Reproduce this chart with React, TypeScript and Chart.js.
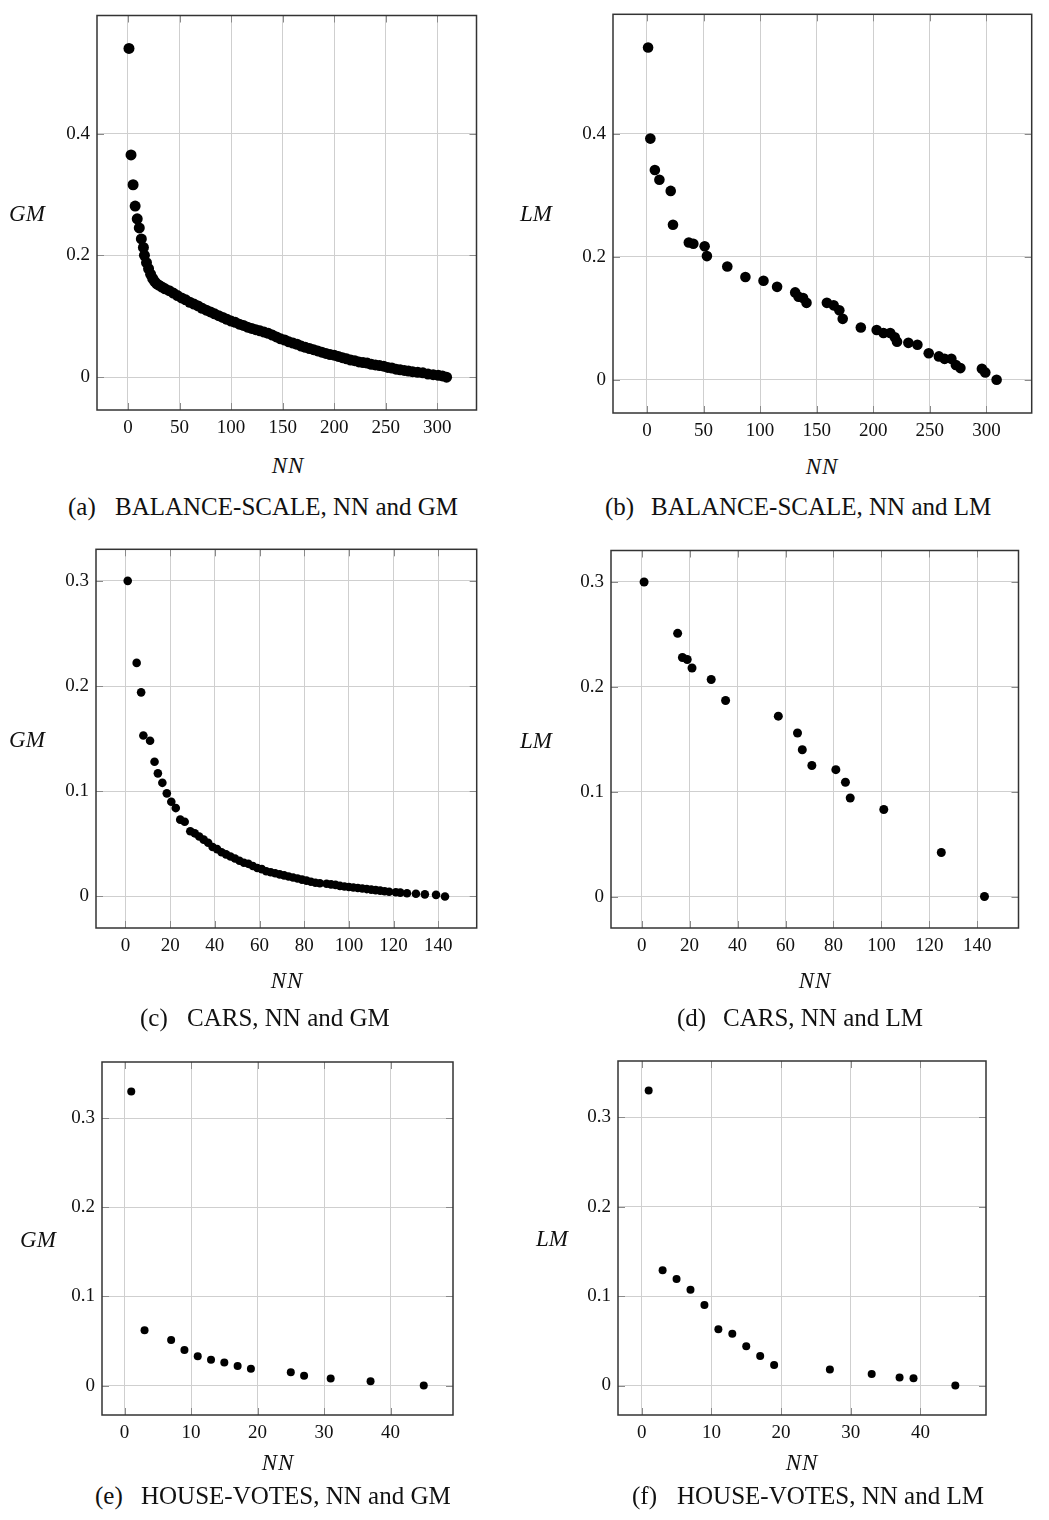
import React, { useEffect, useRef } from "react";
import { Chart, registerables } from "chart.js";
Chart.register(...registerables);

// ---------- DATA ----------
// (a) BALANCE-SCALE, NN vs GM
const aNN = [1, 3, 5, 7, 9, 11, 13, 15, 16, 18, 20, 22, 24, 26, 28, 30, 33, 36, 40, 44, 48, 52, 56, 60, 64, 68, 72, 76, 80, 84, 88, 92, 96, 100, 104, 108, 112, 116, 120, 124, 128, 132, 136, 140, 144, 148, 152, 156, 160, 164, 168, 172, 176, 180, 184, 188, 192, 196, 200, 204, 208, 212, 216, 220, 224, 228, 232, 236, 240, 244, 248, 252, 256, 260, 264, 268, 272, 276, 281, 286, 291, 296, 301, 305, 309];
const aGM = [0.540, 0.365, 0.316, 0.281, 0.260, 0.245, 0.227, 0.213, 0.200, 0.188, 0.178, 0.169, 0.162, 0.157, 0.153, 0.151, 0.148, 0.145, 0.142, 0.138, 0.134, 0.130, 0.127, 0.123, 0.120, 0.117, 0.113, 0.110, 0.107, 0.104, 0.101, 0.098, 0.095, 0.092, 0.090, 0.087, 0.085, 0.082, 0.080, 0.078, 0.076, 0.074, 0.072, 0.069, 0.066, 0.063, 0.061, 0.058, 0.056, 0.054, 0.051, 0.049, 0.047, 0.045, 0.043, 0.041, 0.039, 0.037, 0.036, 0.034, 0.032, 0.030, 0.028, 0.027, 0.025, 0.024, 0.023, 0.021, 0.020, 0.019, 0.018, 0.016, 0.015, 0.013, 0.012, 0.011, 0.010, 0.009, 0.008, 0.007, 0.005, 0.004, 0.003, 0.002, 0.000];

// (b) BALANCE-SCALE, NN vs LM
const bNN = [1, 3, 7, 11, 21, 23, 37, 41, 51, 53, 71, 87, 103, 115, 131, 134, 138, 141, 159, 165, 170, 173, 189, 203, 209, 215, 219, 221, 231, 239, 249, 258, 263, 269, 273, 277, 296, 299, 309];
const bLM = [0.540, 0.392, 0.341, 0.325, 0.307, 0.252, 0.223, 0.221, 0.217, 0.201, 0.184, 0.167, 0.161, 0.151, 0.142, 0.135, 0.133, 0.125, 0.125, 0.121, 0.113, 0.099, 0.085, 0.081, 0.076, 0.076, 0.069, 0.062, 0.060, 0.057, 0.043, 0.038, 0.034, 0.034, 0.024, 0.019, 0.018, 0.012, 0.000];

// (c) CARS, NN vs GM
const cNN = [1, 5, 7, 8, 11, 13, 14.5, 16.5, 18.5, 20.5, 22.5, 24.5, 26.5, 29, 31, 33, 35, 37, 39, 41, 43, 45, 47, 49, 51, 53, 55, 57, 59, 61, 63, 65, 67, 69, 71, 73, 75, 77, 79, 81, 83, 85, 87, 90, 92, 94, 96, 98, 100, 102, 104, 106, 108, 110, 112, 114, 116, 118, 121, 123, 126, 130, 134, 139, 143];
const cGM = [0.300, 0.222, 0.194, 0.153, 0.148, 0.128, 0.117, 0.108, 0.098, 0.090, 0.084, 0.073, 0.071, 0.062, 0.060, 0.057, 0.054, 0.051, 0.047, 0.045, 0.042, 0.040, 0.038, 0.036, 0.034, 0.032, 0.031, 0.029, 0.027, 0.026, 0.024, 0.023, 0.022, 0.021, 0.020, 0.019, 0.018, 0.017, 0.016, 0.015, 0.014, 0.013, 0.0125, 0.012, 0.0115, 0.011, 0.010, 0.0095, 0.009, 0.0085, 0.008, 0.0075, 0.007, 0.0065, 0.006, 0.0055, 0.005, 0.0045, 0.004, 0.0036, 0.003, 0.0025, 0.002, 0.0015, 0.000];

// (d) CARS, NN vs LM
const dNN = [1, 15, 17, 19, 21, 29, 35, 57, 65, 67, 71, 81, 85, 87, 101, 125, 143];
const dLM = [0.300, 0.251, 0.228, 0.226, 0.218, 0.207, 0.187, 0.172, 0.156, 0.140, 0.125, 0.121, 0.109, 0.094, 0.083, 0.042, 0.000];

// (e) HOUSE-VOTES, NN vs GM
const eNN = [1, 3, 7, 9, 11, 13, 15, 17, 19, 25, 27, 31, 37, 45];
const eGM = [0.330, 0.062, 0.051, 0.040, 0.033, 0.029, 0.026, 0.022, 0.019, 0.015, 0.011, 0.008, 0.005, 0.000];

// (f) HOUSE-VOTES, NN vs LM
const fNN = [1, 3, 5, 7, 9, 11, 13, 15, 17, 19, 27, 33, 37, 39, 45];
const fLM = [0.330, 0.129, 0.119, 0.107, 0.090, 0.063, 0.058, 0.044, 0.033, 0.023, 0.018, 0.013, 0.009, 0.008, 0.000];

// tick labels
const xTicksBalance = [0, 50, 100, 150, 200, 250, 300];
const yTicksBalance = [0, 0.2, 0.4];
const xTicksCars = [0, 20, 40, 60, 80, 100, 120, 140];
const yTicksCars = [0, 0.1, 0.2, 0.3];
const xTicksVotes = [0, 10, 20, 30, 40];
const yTicksVotes = [0, 0.1, 0.2, 0.3];

const xTitle = "NN";
const captions = [
  { tag: "(a)", text: "BALANCE-SCALE, NN and GM" },
  { tag: "(b)", text: "BALANCE-SCALE, NN and LM" },
  { tag: "(c)", text: "CARS, NN and GM" },
  { tag: "(d)", text: "CARS, NN and LM" },
  { tag: "(e)", text: "HOUSE-VOTES, NN and GM" },
  { tag: "(f)", text: "HOUSE-VOTES, NN and LM" },
];

// ---------- LAYOUT ----------
const SERIF = "'Liberation Serif', 'DejaVu Serif', serif";

type PanelSpec = {
  box: { l: number; t: number; r: number; b: number };
  xr: [number, number];
  yr: [number, number];
  xs: number[];
  ys: number[];
  xTicks: number[];
  yTicks: number[];
  radius: number;
  yTitle: string;
  yTitlePos: [number, number];
  xTitlePos: [number, number];
  capTagX: number;
  capTextX: number;
  capY: number;
  cap: { tag: string; text: string };
};

const panels: PanelSpec[] = [
  { box: { l: 97, t: 14, r: 478, b: 410 }, xr: [-30, 338], yr: [-0.054, 0.594], xs: aNN, ys: aGM, xTicks: xTicksBalance, yTicks: yTicksBalance, radius: 5.5, yTitle: "GM", yTitlePos: [27, 213], xTitlePos: [288, 465], capTagX: 68, capTextX: 115, capY: 506, cap: captions[0] },
  { box: { l: 613, t: 13, r: 1033, b: 413 }, xr: [-30, 340], yr: [-0.054, 0.594], xs: bNN, ys: bLM, xTicks: xTicksBalance, yTicks: yTicksBalance, radius: 5.3, yTitle: "LM", yTitlePos: [536, 213], xTitlePos: [822, 466], capTagX: 605, capTextX: 651, capY: 506, cap: captions[1] },
  { box: { l: 96, t: 549, r: 477, b: 928 }, xr: [-13.2, 157.2], yr: [-0.03, 0.33], xs: cNN, ys: cGM, xTicks: xTicksCars, yTicks: yTicksCars, radius: 4.3, yTitle: "GM", yTitlePos: [27, 739], xTitlePos: [287, 980], capTagX: 140, capTextX: 187, capY: 1017, cap: captions[2] },
  { box: { l: 611, t: 550, r: 1019, b: 928 }, xr: [-12.8, 157.2], yr: [-0.03, 0.33], xs: dNN, ys: dLM, xTicks: xTicksCars, yTicks: yTicksCars, radius: 4.5, yTitle: "LM", yTitlePos: [536, 740], xTitlePos: [815, 980], capTagX: 677, capTextX: 723, capY: 1017, cap: captions[3] },
  { box: { l: 102, t: 1062, r: 453, b: 1415 }, xr: [-3.4, 49.4], yr: [-0.033, 0.363], xs: eNN, ys: eGM, xTicks: xTicksVotes, yTicks: yTicksVotes, radius: 4, yTitle: "GM", yTitlePos: [38, 1239], xTitlePos: [278, 1462], capTagX: 95, capTextX: 141, capY: 1495, cap: captions[4] },
  { box: { l: 618, t: 1061, r: 986, b: 1415 }, xr: [-3.4, 49.4], yr: [-0.033, 0.363], xs: fNN, ys: fLM, xTicks: xTicksVotes, yTicks: yTicksVotes, radius: 4, yTitle: "LM", yTitlePos: [552, 1238], xTitlePos: [802, 1462], capTagX: 632, capTextX: 677, capY: 1495, cap: captions[5] },
];

const PAD_L = 60;
const PAD_T = 4;
const PAD_R = 4;
const PAD_B = 40;

const boxPlugin = {
  id: "pgfBox",
  beforeDatasetsDraw(chart: any) {
    const { ctx, chartArea: a, scales } = chart;
    ctx.save();
    ctx.strokeStyle = "#8a8a8a";
    ctx.lineWidth = 1;
    const tl = 7;
    ctx.beginPath();
    scales.x.ticks.forEach((t: any) => {
      const px = Math.round(scales.x.getPixelForValue(t.value)) + 0.5;
      ctx.moveTo(px, a.top);
      ctx.lineTo(px, a.top + tl);
      ctx.moveTo(px, a.bottom);
      ctx.lineTo(px, a.bottom - tl);
    });
    scales.y.ticks.forEach((t: any) => {
      const py = Math.round(scales.y.getPixelForValue(t.value)) + 0.5;
      ctx.moveTo(a.left, py);
      ctx.lineTo(a.left + tl, py);
      ctx.moveTo(a.right, py);
      ctx.lineTo(a.right - tl, py);
    });
    ctx.stroke();
    ctx.strokeStyle = "#333333";
    ctx.lineWidth = 1.5;
    ctx.strokeRect(a.left, a.top, a.right - a.left, a.bottom - a.top);
    ctx.restore();
  },
};

function Panel({ p }: { p: PanelSpec }) {
  const ref = useRef<HTMLCanvasElement | null>(null);
  const w = p.box.r - p.box.l + PAD_L + PAD_R;
  const h = p.box.b - p.box.t + PAD_T + PAD_B;

  useEffect(() => {
    if (!ref.current) return;
    const chart = new Chart(ref.current, {
      type: "scatter",
      data: {
        datasets: [
          {
            data: p.xs.map((x, i) => ({ x, y: p.ys[i] })),
            pointRadius: p.radius,
            pointBackgroundColor: "#000000",
            pointBorderColor: "#000000",
            pointBorderWidth: 0,
            showLine: false,
          },
        ],
      },
      options: {
        animation: false,
        responsive: false,
        maintainAspectRatio: false,
        events: [],
        layout: { padding: { left: 0, top: PAD_T, right: PAD_R, bottom: 0 } },
        plugins: { legend: { display: false }, tooltip: { enabled: false } },
        scales: {
          x: {
            type: "linear",
            min: p.xr[0],
            max: p.xr[1],
            afterBuildTicks: (s: any) => {
              s.ticks = p.xTicks.map((v) => ({ value: v }));
            },
            afterFit: (s: any) => {
              s.height = PAD_B;
              s.paddingLeft = 0;
              s.paddingRight = 0;
              s.paddingTop = 0;
              s.paddingBottom = 0;
            },
            grid: { color: "#cfcfcf", lineWidth: 1, drawTicks: false },
            border: { display: false },
            ticks: {
              padding: 7,
              color: "#111",
              font: { family: SERIF, size: 19 },
              callback: (v: any) => String(v),
            },
          },
          y: {
            type: "linear",
            min: p.yr[0],
            max: p.yr[1],
            afterBuildTicks: (s: any) => {
              s.ticks = p.yTicks.map((v) => ({ value: v }));
            },
            afterFit: (s: any) => {
              s.width = PAD_L;
              s.paddingLeft = 0;
              s.paddingRight = 0;
              s.paddingTop = 0;
              s.paddingBottom = 0;
            },
            grid: { color: "#cfcfcf", lineWidth: 1, drawTicks: false },
            border: { display: false },
            ticks: {
              padding: 7,
              color: "#111",
              font: { family: SERIF, size: 19 },
              callback: (v: any) => String(v),
            },
          },
        },
      },
      plugins: [boxPlugin],
    });
    return () => chart.destroy();
  }, []);

  const textBase: React.CSSProperties = {
    position: "absolute",
    fontFamily: SERIF,
    whiteSpace: "nowrap",
    lineHeight: 1,
    color: "#111",
  };

  return (
    <>
      <canvas
        ref={ref}
        width={w}
        height={h}
        style={{ position: "absolute", left: p.box.l - PAD_L, top: p.box.t - PAD_T, width: w, height: h }}
      />
      <div style={{ ...textBase, left: p.yTitlePos[0], top: p.yTitlePos[1], transform: "translate(-50%, -50%)", fontStyle: "italic", fontSize: 23 }}>
        {p.yTitle}
      </div>
      <div style={{ ...textBase, left: p.xTitlePos[0], top: p.xTitlePos[1], transform: "translate(-50%, -50%)", fontStyle: "italic", fontSize: 23, letterSpacing: 1 }}>
        {xTitle}
      </div>
      <div style={{ ...textBase, left: p.capTagX, top: p.capY, transform: "translateY(-50%)", fontSize: 25 }}>
        {p.cap.tag}
      </div>
      <div style={{ ...textBase, left: p.capTextX, top: p.capY, transform: "translateY(-50%)", fontSize: 25 }}>
        {p.cap.text}
      </div>
    </>
  );
}

export default function App() {
  return (
    <div style={{ position: "absolute", left: 0, top: 0, width: 1049, height: 1520, background: "#ffffff" }}>
      {panels.map((p, i) => (
        <Panel key={i} p={p} />
      ))}
    </div>
  );
}
